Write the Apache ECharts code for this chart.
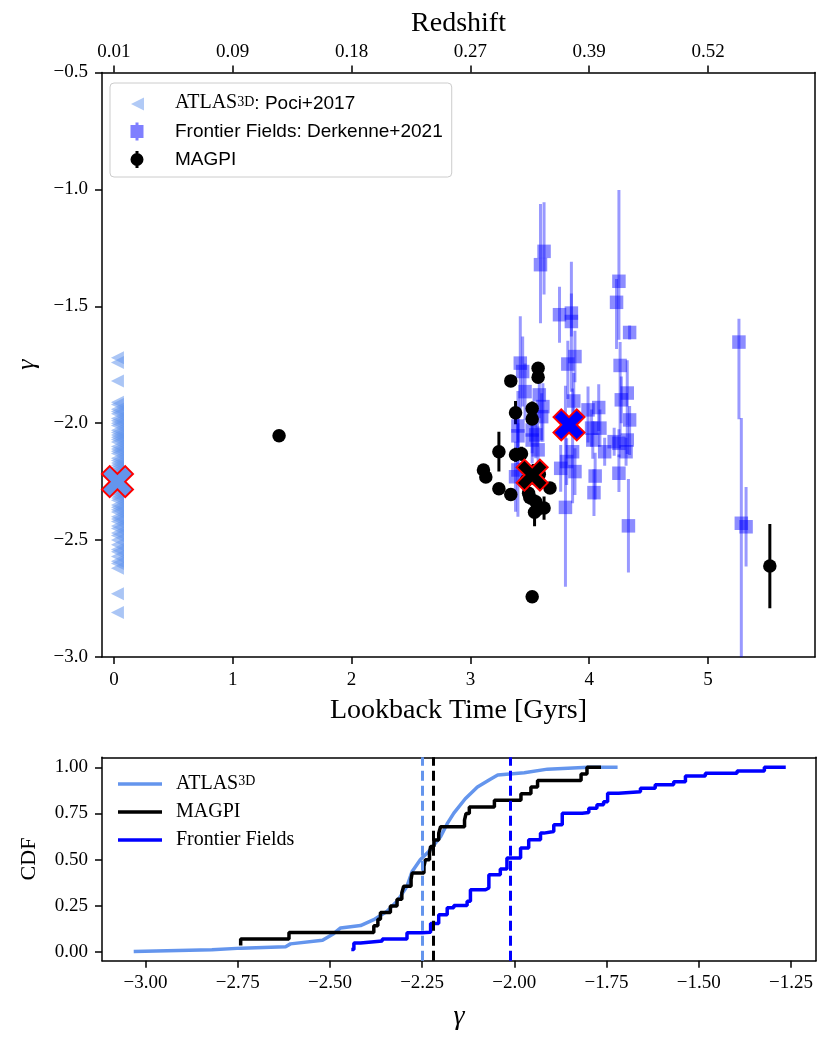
<!DOCTYPE html>
<html style="height: 100%; width: 100%">
  <head>
    <meta charset="utf-8" />
  </head>
  <body style="height: 100%; width: 100%; margin: 0">
    <div id="chart-panel" style="height: 1040px; width: 831px"></div>
    <script
      type="text/javascript"
      src="https://cdn.jsdelivr.net/npm/echarts@6/dist/echarts.min.js"
    ></script>

    <script type="text/javascript">
      // ---- tick labels ----
      var lookbackTicks = [0, 1, 2, 3, 4, 5];
      var redshiftLabels = ["0.01", "0.09", "0.18", "0.27", "0.39", "0.52"];
      var gammaTicks = [-3.0, -2.75, -2.5, -2.25, -2.0, -1.75, -1.5, -1.25];
      var cdfTicks = [0, 0.25, 0.5, 0.75, 1.0];

      // ---- ATLAS3D (Poci+2017), all at z ~ 0.01 ----
      var atlasLookback = 0.03;
      var atlasGamma = [
        -1.72, -1.74, -1.82, -1.91, -1.92, -1.94, -1.95, -1.96, -1.98, -1.99,
        -2.0, -2.01, -2.03, -2.04, -2.05, -2.06, -2.07, -2.08, -2.1, -2.11,
        -2.12, -2.13, -2.15, -2.16, -2.17, -2.18, -2.19, -2.2, -2.21, -2.22,
        -2.23, -2.24, -2.25, -2.26, -2.27, -2.28, -2.29, -2.3, -2.31, -2.32,
        -2.33, -2.35, -2.36, -2.37, -2.38, -2.4, -2.41, -2.42, -2.44, -2.45,
        -2.47, -2.48, -2.5, -2.52, -2.54, -2.55, -2.57, -2.59, -2.6, -2.62,
        -2.73, -2.81, -3.03,
      ];

      // ---- Frontier Fields (Derkenne+2021) ----
      var ffLookback = [
        3.62, 3.59, 3.75, 3.85, 3.85, 4.25, 4.23, 4.34, 3.88, 3.82,
        3.42, 3.44, 3.46, 3.58, 3.61, 3.6, 3.4, 3.4, 3.52, 3.52,
        3.57, 3.38, 3.4, 3.87, 3.99, 4.08, 4.02, 4.09, 4.03, 4.13,
        4.21, 4.25, 4.32, 4.31, 4.34, 4.27, 4.32, 4.26, 4.25, 4.33,
        4.05, 4.04, 3.88, 3.76, 3.8, 3.86, 3.81, 5.26, 5.28, 5.32,
        3.55,
      ];
      var ffGamma = [
        -1.265, -1.322, -1.536, -1.529, -1.565, -1.393, -1.483, -1.612, -1.715, -1.747,
        -1.743, -1.779, -1.865, -1.879, -1.929, -1.972, -2.012, -2.054, -2.029, -2.072,
        -2.114, -2.229, -2.2, -1.905, -1.943, -1.933, -2.021, -2.021, -2.072, -2.122,
        -2.079, -2.086, -2.072, -2.122, -1.986, -1.9, -1.871, -1.753, -2.214, -2.439,
        -2.226, -2.297, -2.207, -2.193, -2.36, -2.122, -2.164, -1.653, -2.428, -2.443,
        -2.05,
      ];
      var ffErrLow = [
        0.185, 0.25, 0.12, 0.1, 0.3, 0.25, 0.2, 0.03, 0.11, 0.15,
        0.2, 0.15, 0.12, 0.1, 0.15, 0.1, 0.15, 0.12, 0.1, 0.1,
        0.15, 0.15, 0.2, 0.1, 0.14, 0.1, 0.08, 0.08, 0.08, 0.06,
        0.06, 0.06, 0.06, 0.06, 0.15, 0.1, 0.14, 0.3, 0.08, 0.2,
        0.1, 0.1, 0.1, 0.1, 0.34, 0.22, 0.1, 0.33, 0.7, 0.17,
        0.1,
      ];
      var ffErrHigh = [
        0.21, 0.26, 0.12, 0.22, 0.12, 0.39, 0.1, 0.03, 0.11, 0.1,
        0.2, 0.15, 0.12, 0.1, 0.1, 0.1, 0.15, 0.12, 0.1, 0.1,
        0.1, 0.15, 0.2, 0.12, 0.1, 0.1, 0.08, 0.08, 0.08, 0.06,
        0.06, 0.06, 0.06, 0.06, 0.06, 0.1, 0.14, 0.1, 0.08, 0.2,
        0.1, 0.1, 0.1, 0.1, 0.52, 0.27, 0.1, 0.1, 0.45, 0.17,
        0.1,
      ];

      // ---- MAGPI ----
      var magpiLookback = [
        1.39, 5.52, 3.52, 3.54, 3.56, 3.62, 3.55, 3.5, 3.34, 3.49,
        3.24, 3.67, 3.47, 3.56, 3.13, 3.5, 3.58, 3.53, 3.11, 3.38,
        3.43, 3.24, 3.52, 3.38, 3.52, 3.34, 3.57, 3.57,
      ];
      var magpiGamma = [
        -2.054, -2.611, -2.742, -2.381, -2.37, -2.363, -2.336, -2.318, -2.305, -2.3,
        -2.28, -2.277, -2.245, -2.241, -2.23, -2.227, -2.218, -2.205, -2.2, -2.135,
        -2.131, -2.122, -1.982, -1.955, -1.937, -1.819, -1.803, -1.765,
      ];
      var magpiErr = [
        0.02, 0.18, 0.02, 0.06, 0.03, 0.05, 0.03, 0.03, 0.02, 0.03,
        0.02, 0.02, 0.03, 0.03, 0.02, 0.03, 0.03, 0.03, 0.02, 0.03,
        0.03, 0.085, 0.02, 0.05, 0.03, 0.02, 0.02, 0.02,
      ];

      // ---- medians (ATLAS, MAGPI, Frontier Fields) ----
      var medianLookback = [0.03, 3.52, 3.83];
      var medianGamma = [-2.25, -2.222, -2.007];
      var medianCdfGamma = [-2.252, -2.223, -2.008];

      // ---- CDFs (ATLAS and FF samples are larger than what is visible above) ----
      var atlasCdf = [
        [-3.032, 0.004], [-3.03, 0.011], [-2.82, 0.013], [-2.74, 0.022], [-2.62, 0.03],
        [-2.607, 0.045], [-2.52, 0.065], [-2.49, 0.1], [-2.471, 0.131], [-2.417, 0.144],
        [-2.381, 0.176], [-2.345, 0.221], [-2.318, 0.275], [-2.291, 0.356], [-2.277, 0.437],
        [-2.255, 0.5], [-2.232, 0.545], [-2.2, 0.625], [-2.182, 0.695], [-2.164, 0.752],
        [-2.133, 0.83], [-2.1, 0.893], [-2.065, 0.935], [-2.045, 0.958], [-1.973, 0.971],
        [-1.91, 0.99], [-1.8, 1.0], [-1.72, 1.0],
      ];
      var ffCdf = [
        [-2.442, 0.015], [-2.435, 0.05], [-2.417, 0.06], [-2.358, 0.072], [-2.291, 0.105],
        [-2.25, 0.108], [-2.227, 0.155], [-2.205, 0.203], [-2.182, 0.24], [-2.164, 0.252],
        [-2.128, 0.275], [-2.119, 0.338], [-2.078, 0.347], [-2.069, 0.419], [-2.038, 0.45],
        [-2.02, 0.509], [-1.983, 0.563], [-1.961, 0.608], [-1.929, 0.644], [-1.92, 0.653],
        [-1.893, 0.689], [-1.87, 0.752], [-1.816, 0.755], [-1.798, 0.779], [-1.776, 0.797],
        [-1.758, 0.814], [-1.747, 0.86], [-1.717, 0.868], [-1.658, 0.887], [-1.618, 0.905],
        [-1.568, 0.922], [-1.536, 0.953], [-1.482, 0.968], [-1.396, 0.98], [-1.322, 1.0],
        [-1.264, 1.0],
      ];

      var atlasColor = "#6495ED";
      var ffColor = "#0000FF";
      var magpiColor = "#000000";
      var serif = "'Liberation Serif', 'DejaVu Serif', serif";
      var sans = "'Liberation Sans', 'DejaVu Sans', sans-serif";

      function minus(s) {
        return String(s).replace("-", "\u2212");
      }

      // MAGPI empirical CDF, drawn as a step line
      var magpiSorted = magpiGamma.slice().sort(function (a, b) {
        return a - b;
      });
      var magpiCdf = magpiSorted.map(function (g, i) {
        return [g, (i + 1) / magpiSorted.length];
      });

      function renderErrorBar(params, api) {
        var x = api.value(0);
        var y = api.value(1);
        var lo = api.coord([x, y - api.value(2)]);
        var hi = api.coord([x, y + api.value(3)]);
        return {
          type: "line",
          shape: { x1: lo[0], y1: lo[1], x2: hi[0], y2: hi[1] },
          style: api.style({ stroke: api.visual("color"), lineWidth: 3 }),
        };
      }

      var xPath = "path://M-1,-0.5L-0.5,-1L0,-0.5L0.5,-1L1,-0.5L0.5,0L1,0.5L0.5,1L0,0.5L-0.5,1L-1,0.5L-0.5,0Z";
      var axisBlack = { color: "#000", width: 1.5 };
      var lineIcon = "path://M0,0M53,4M0,0.3L44,0.3L44,3.7L0,3.7Z";

      function spineAxis(gridIndex, position) {
        return {
          gridIndex: gridIndex,
          type: "value",
          position: position,
          min: 0,
          max: 1,
          axisLine: { show: true, onZero: false, lineStyle: axisBlack },
          axisTick: { show: false },
          axisLabel: { show: false },
          splitLine: { show: false },
        };
      }

      var dom = document.getElementById("chart-panel");
      var myChart = echarts.init(dom);
      var option = {
        animation: false,
        backgroundColor: "#ffffff",
        grid: [
          { left: 102, top: 72.5, width: 713, height: 584.5 },
          { left: 102, top: 757.3, width: 714, height: 203.4 },
        ],
        legend: [
          {
            left: 110,
            top: 83,
            orient: "vertical",
            padding: [7, 9, 8, 20],
            itemGap: 9,
            itemWidth: 40,
            itemHeight: 18,
            borderColor: "#cccccc",
            borderWidth: 1,
            borderRadius: 4,
            backgroundColor: "rgba(255,255,255,0.8)",
            selectedMode: false,
            data: [
              {
                name: "atlas",
                icon: "path://M0,0M40,18M14,2.5L1,9L14,15.5Z",
                itemStyle: { color: atlasColor, opacity: 0.5, borderWidth: 0 },
              },
              {
                name: "ff",
                icon: "path://M0,0M40,18M0.5,2.5L13.5,2.5L13.5,15.5L0.5,15.5ZM5.5,0L8.5,0L8.5,18L5.5,18Z",
                itemStyle: { color: ffColor, opacity: 0.5, borderWidth: 0 },
              },
              {
                name: "magpi",
                icon: "path://M0,0M40,18M0.5,9A6.5,6.5 0 1 1 13.5,9A6.5,6.5 0 1 1 0.5,9ZM5.5,0.5L8.5,0.5L8.5,17.5L5.5,17.5Z",
                itemStyle: { color: magpiColor, opacity: 1, borderWidth: 0 },
              },
            ],
            formatter: function (name) {
              if (name === "atlas") return "{s|ATLAS}{sup|3D}{t|: Poci+2017}";
              if (name === "ff") return "{u|Frontier Fields: Derkenne+2021}";
              return "{u|MAGPI}";
            },
            textStyle: {
              color: "#000",
              fontFamily: sans,
              fontSize: 19,
              lineHeight: 18,
              rich: {
                s: { fontFamily: serif, fontSize: 20, lineHeight: 18, padding: [3, 0, 0, 0], verticalAlign: "bottom", color: "#000" },
                sup: { fontFamily: serif, fontSize: 14, lineHeight: 10, verticalAlign: "top", color: "#000" },
                t: { fontFamily: sans, fontSize: 19, lineHeight: 18, padding: [3, 0, 0, 0], verticalAlign: "bottom", color: "#000" },
                u: { fontFamily: sans, fontSize: 19, lineHeight: 18, color: "#000" },
              },
            },
          },
          {
            left: 118,
            top: 771,
            orient: "vertical",
            padding: 0,
            itemGap: 8,
            itemWidth: 53,
            itemHeight: 4,
            selectedMode: false,
            data: [
              { name: "atlasCdf", icon: lineIcon, itemStyle: { color: atlasColor, opacity: 1, borderWidth: 0 } },
              { name: "magpiCdf", icon: lineIcon, itemStyle: { color: magpiColor, opacity: 1, borderWidth: 0 } },
              { name: "ffCdf", icon: lineIcon, itemStyle: { color: ffColor, opacity: 1, borderWidth: 0 } },
            ],
            formatter: function (name) {
              if (name === "atlasCdf") return "{s|ATLAS}{sup|3D}";
              if (name === "magpiCdf") return "{u|MAGPI}";
              return "{u|Frontier Fields}";
            },
            textStyle: {
              color: "#000",
              fontFamily: serif,
              fontSize: 20,
              lineHeight: 20,
              rich: {
                s: { fontFamily: serif, fontSize: 20, lineHeight: 20, padding: [3, 0, 0, 0], verticalAlign: "bottom", color: "#000" },
                sup: { fontFamily: serif, fontSize: 14, lineHeight: 10, verticalAlign: "top", color: "#000" },
                u: { fontFamily: serif, fontSize: 20, lineHeight: 20, color: "#000" },
              },
            },
          },
        ],
        xAxis: [
          {
            gridIndex: 0,
            type: "value",
            position: "bottom",
            min: -0.1,
            max: 5.9,
            axisLine: { show: true, onZero: false, lineStyle: axisBlack },
            axisTick: { show: true, customValues: lookbackTicks, length: 7, lineStyle: axisBlack },
            axisLabel: {
              customValues: lookbackTicks,
              color: "#000",
              fontFamily: serif,
              fontSize: 19,
              margin: 14,
            },
            splitLine: { show: false },
            name: "Lookback Time [Gyrs]",
            nameLocation: "middle",
            nameGap: 40,
            nameTextStyle: { color: "#000", fontFamily: serif, fontSize: 28 },
          },
          {
            gridIndex: 0,
            type: "value",
            position: "top",
            min: -0.1,
            max: 5.9,
            axisLine: { show: true, onZero: false, lineStyle: axisBlack },
            axisTick: { show: true, customValues: lookbackTicks, length: 7, lineStyle: axisBlack },
            axisLabel: {
              customValues: lookbackTicks,
              color: "#000",
              fontFamily: serif,
              fontSize: 19,
              margin: 11,
              formatter: function (v) {
                return redshiftLabels[lookbackTicks.indexOf(Math.round(v))];
              },
            },
            splitLine: { show: false },
            name: "Redshift",
            nameLocation: "middle",
            nameGap: 35,
            nameTextStyle: { color: "#000", fontFamily: serif, fontSize: 28 },
          },
          {
            gridIndex: 1,
            type: "value",
            position: "bottom",
            min: -3.118,
            max: -1.182,
            axisLine: { show: true, onZero: false, lineStyle: axisBlack },
            axisTick: { show: true, customValues: gammaTicks, length: 7, lineStyle: axisBlack },
            axisLabel: {
              customValues: gammaTicks,
              color: "#000",
              fontFamily: serif,
              fontSize: 19,
              margin: 13,
              formatter: function (v) {
                return minus(v.toFixed(2));
              },
            },
            splitLine: { show: false },
            name: "γ",
            nameLocation: "middle",
            nameGap: 42,
            nameTextStyle: { color: "#000", fontFamily: serif, fontStyle: "italic", fontSize: 28 },
          },
          spineAxis(1, "top"),
        ],
        yAxis: [
          {
            gridIndex: 0,
            type: "value",
            position: "left",
            min: -3.0,
            max: -0.5,
            interval: 0.5,
            axisLine: { show: true, onZero: false, lineStyle: axisBlack },
            axisTick: { show: true, length: 7, lineStyle: axisBlack },
            axisLabel: {
              color: "#000",
              fontFamily: serif,
              fontSize: 19,
              margin: 14,
              formatter: function (v) {
                return minus(v.toFixed(1));
              },
            },
            splitLine: { show: false },
            name: "γ",
            nameLocation: "middle",
            nameGap: 62,
            nameTextStyle: { color: "#000", fontFamily: serif, fontStyle: "italic", fontSize: 26 },
          },
          spineAxis(0, "right"),
          {
            gridIndex: 1,
            type: "value",
            position: "left",
            min: -0.046,
            max: 1.054,
            axisLine: { show: true, onZero: false, lineStyle: axisBlack },
            axisTick: { show: true, customValues: cdfTicks, length: 7, lineStyle: axisBlack },
            axisLabel: {
              customValues: cdfTicks,
              color: "#000",
              fontFamily: serif,
              fontSize: 19,
              margin: 14,
              formatter: function (v) {
                return v.toFixed(2);
              },
            },
            splitLine: { show: false },
            name: "CDF",
            nameLocation: "middle",
            nameGap: 62,
            nameTextStyle: { color: "#000", fontFamily: serif, fontSize: 22 },
          },
          spineAxis(1, "right"),
        ],
        series: [
          {
            name: "atlas",
            type: "scatter",
            xAxisIndex: 0,
            yAxisIndex: 0,
            symbol: "path://M13,0L0,6.5L13,13Z",
            symbolSize: [13, 13],
            itemStyle: { color: atlasColor, opacity: 0.55 },
            data: atlasGamma.map(function (g) {
              return [atlasLookback, g];
            }),
          },
          {
            type: "custom",
            xAxisIndex: 0,
            yAxisIndex: 0,
            clip: true,
            renderItem: renderErrorBar,
            itemStyle: { color: ffColor, opacity: 0.4 },
            encode: { x: 0, y: 1 },
            data: ffGamma.map(function (g, i) {
              return [ffLookback[i], g, ffErrLow[i], ffErrHigh[i]];
            }),
          },
          {
            name: "ff",
            type: "scatter",
            xAxisIndex: 0,
            yAxisIndex: 0,
            symbol: "rect",
            symbolSize: 13.5,
            itemStyle: { color: ffColor, opacity: 0.45 },
            data: ffGamma.map(function (g, i) {
              return [ffLookback[i], g];
            }),
          },
          {
            type: "custom",
            xAxisIndex: 0,
            yAxisIndex: 0,
            clip: true,
            renderItem: renderErrorBar,
            itemStyle: { color: magpiColor, opacity: 1 },
            encode: { x: 0, y: 1 },
            data: magpiGamma.map(function (g, i) {
              return [magpiLookback[i], g, magpiErr[i], magpiErr[i]];
            }),
          },
          {
            name: "magpi",
            type: "scatter",
            xAxisIndex: 0,
            yAxisIndex: 0,
            symbol: "circle",
            symbolSize: 13.5,
            itemStyle: { color: magpiColor, opacity: 1 },
            data: magpiGamma.map(function (g, i) {
              return [magpiLookback[i], g];
            }),
          },
          {
            type: "scatter",
            xAxisIndex: 0,
            yAxisIndex: 0,
            symbol: xPath,
            symbolSize: 31,
            itemStyle: { borderColor: "#FF0000", borderWidth: 2, opacity: 1 },
            data: medianGamma.map(function (g, i) {
              return {
                value: [medianLookback[i], g],
                itemStyle: { color: [atlasColor, magpiColor, ffColor][i] },
              };
            }),
          },
          {
            name: "atlasCdf",
            type: "line",
            xAxisIndex: 2,
            yAxisIndex: 2,
            symbol: "none",
            lineStyle: { color: atlasColor, width: 3.5 },
            itemStyle: { color: atlasColor },
            data: atlasCdf,
          },
          {
            name: "magpiCdf",
            type: "line",
            xAxisIndex: 2,
            yAxisIndex: 2,
            symbol: "none",
            step: "start",
            lineStyle: { color: magpiColor, width: 3.5 },
            itemStyle: { color: magpiColor },
            data: magpiCdf,
          },
          {
            name: "ffCdf",
            type: "line",
            xAxisIndex: 2,
            yAxisIndex: 2,
            symbol: "none",
            step: "end",
            lineStyle: { color: ffColor, width: 3.5 },
            itemStyle: { color: ffColor },
            data: ffCdf,
            markLine: {
              silent: true,
              symbol: ["none", "none"],
              label: { show: false },
              data: medianCdfGamma.map(function (g, i) {
                return {
                  xAxis: g,
                  lineStyle: { color: [atlasColor, magpiColor, ffColor][i], width: 3, type: [10, 5] },
                };
              }),
            },
          },
        ],
      };
      if (option && typeof option === "object") {
        myChart.setOption(option);
      }
    </script>
  </body>
</html>
